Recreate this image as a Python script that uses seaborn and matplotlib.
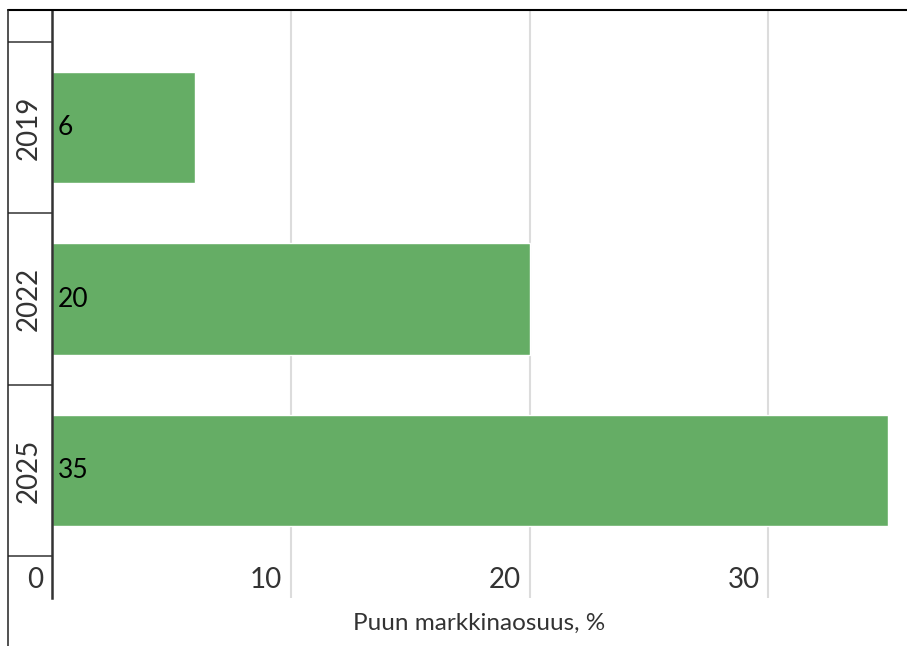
import matplotlib
matplotlib.use('Agg')
import matplotlib.pyplot as plt
from matplotlib.lines import Line2D
import seaborn as sns
import pandas as pd

years = ['2019', '2022', '2025']
share = [6, 20, 35]
xticks = [0, 10, 20, 30]
xlabel = 'Puun markkinaosuus, %'

sns.set_style('white')
plt.rcParams['font.family'] = ['Lato', 'DejaVu Sans']

df = pd.DataFrame({'year': years, 'share': share})

fig = plt.figure(figsize=(9.07, 6.46), dpi=100)
ax = fig.add_axes([52 / 907, 48 / 646, 855 / 907, 588 / 646])

sns.barplot(data=df, x='share', y='year', orient='h', color='#65ad65',
            saturation=1, width=0.65, ax=ax)

ax.set_xlim(0, 35.8)
ax.set_ylim(2.743, -0.685)

# grid at 10/20/30, labels written inside the plot area
ax.set_xticks(xticks)
ax.xaxis.grid(True, color='#dcdcdc', linewidth=1.5)
ax.set_axisbelow(True)
ax.tick_params(axis='x', length=0, labelbottom=False)
for v in xticks:
    ax.annotate(str(v), xy=(v, 0), xycoords=('data', 'axes fraction'),
                xytext=(-9, 18), textcoords='offset pixels',
                ha='right', va='center', fontsize=20, color='#333333')

# years, rotated, with separator lines between them
ax.set_yticks(range(len(years)))
ax.set_yticklabels(years, rotation=90, va='center', fontsize=20, color='#333333')
ax.set_yticks([i - 0.5 for i in range(len(years) + 1)], minor=True)
ax.tick_params(axis='y', which='major', left=False, pad=4)
ax.tick_params(axis='y', which='minor', left=True, length=44 * 0.72,
               width=1.1, color='#333333')
ax.set_ylabel('')

ax.set_xlabel(xlabel, fontsize=17.5, color='#333333')
ax.xaxis.set_label_coords(0.5, -0.026)

for i, v in enumerate(share):
    ax.annotate(str(v), xy=(0, i), xytext=(6, 0), textcoords='offset pixels',
                ha='left', va='center', fontsize=19, color='black')

for s in ['top', 'right', 'bottom']:
    ax.spines[s].set_visible(False)
ax.spines['left'].set_linewidth(1.8)
ax.spines['left'].set_color('#333333')

# frame round the figure
fig.add_artist(Line2D([8 / 907, 1], [1 - 10 / 646] * 2, color='black', lw=1.5))
fig.add_artist(Line2D([8 / 907] * 2, [0, 1 - 10 / 646], color='#222222', lw=1.1))

fig.savefig('out.png', dpi=100)
